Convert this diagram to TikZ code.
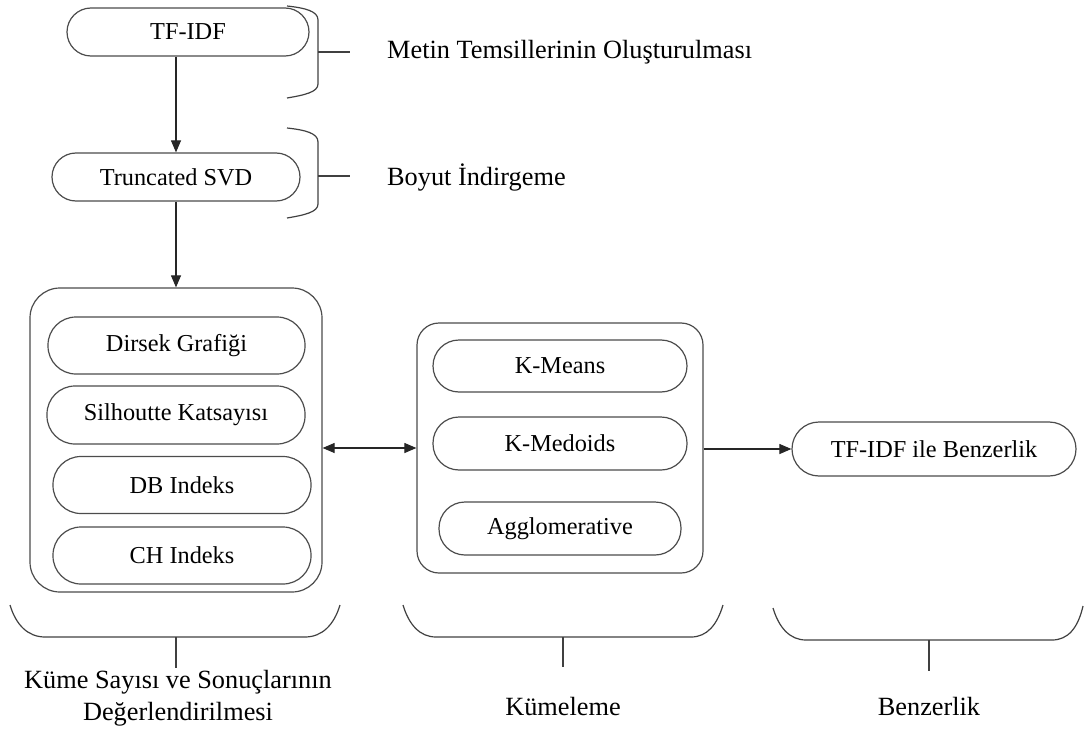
\documentclass[tikz,border=0pt]{standalone}
\usepackage{fontspec}
\setmainfont{Liberation Serif}
\usetikzlibrary{arrows.meta}
\begin{document}
\begin{tikzpicture}[x=1pt,y=-1pt,
  box/.style={draw=black!70,line width=1.2pt,rounded corners=#1,inner sep=0pt,align=center,font=\fontsize{24.3}{29}\selectfont},
  box/.default=24pt,
  lbl/.style={font=\fontsize{26.3}{32}\selectfont,inner sep=0pt,align=center},
  arr/.style={line width=1.1pt,draw=black!85,-{Triangle[length=12pt,width=10pt]}},
  darr/.style={line width=1.1pt,draw=black!85,{Triangle[length=12pt,width=10pt]}-{Triangle[length=12pt,width=10pt]}},
  brace/.style={draw=black!75,line width=1.2pt}]
\useasboundingbox (0,0) rectangle (1084,733);
% top nodes
\node[box,minimum width=242pt,minimum height=48pt] (tfidf) at (188,32) {TF-IDF};
\node[box,minimum width=248pt,minimum height=48pt] (svd) at (176,177) {Truncated SVD};
% left group
\node[box=30pt,minimum width=292pt,minimum height=304pt] (lbox) at (176,440) {};
\node[box=28pt,minimum width=257pt,minimum height=57pt] (dirsek) at (176.5,345.5) {Dirsek Grafiği};
\node[box=28pt,minimum width=258pt,minimum height=58pt] (silh) at (176,415) {Silhoutte Katsayısı};
\node[box=28pt,minimum width=258pt,minimum height=57pt] (db) at (182,485) {DB Indeks};
\node[box=28pt,minimum width=258pt,minimum height=57pt] (ch) at (182,555.5) {CH Indeks};
% middle group
\node[box=22pt,minimum width=286pt,minimum height=250pt] (mid) at (560,448) {};
\node[box=26pt,minimum width=254pt,minimum height=52pt] (kmeans) at (560,366) {K-Means};
\node[box=26pt,minimum width=254pt,minimum height=53pt] (kmedoids) at (560,443.5) {K-Medoids};
\node[box=26pt,minimum width=242pt,minimum height=53pt] (agglo) at (560,528.5) {Agglomerative};
% right
\node[box=27pt,minimum width=284pt,minimum height=54pt] (benz) at (934,449) {TF-IDF ile Benzerlik};
% arrows
\draw[arr] (tfidf.south -| svd.north) -- (svd.north);
\draw[arr] (svd.south) -- (lbox.north);
\draw[darr] ([yshift=-8pt]lbox.east) -- ([yshift=-8pt]lbox.east -| mid.west);
\draw[arr] (mid.east |- benz.west) -- (benz.west);
% top braces
\draw[brace] (287,6) .. controls (305,8) and (318,11) .. (318,20) -- (318,84) .. controls (318,92) and (305,95) .. (287,98);
\coordinate (t1) at (318,52); \coordinate (t1e) at (350,52);
\draw[brace] (t1) -- (t1e);
\node[lbl,anchor=west] (l1) at (387,52) {Metin Temsillerinin Oluşturulması};
\draw[brace] (287,128) .. controls (305,130) and (318,133) .. (318,142) -- (318,204) .. controls (318,212) and (305,215) .. (287,218);
\coordinate (t2) at (318,176); \coordinate (t2e) at (350,176);
\draw[brace] (t2) -- (t2e);
\node[lbl,anchor=west] (l2) at (387,177) {Boyut İndirgeme};
% bottom braces
\draw[brace] (10,605) .. controls (16,625) and (28,637) .. (45,637) -- (305,637) .. controls (322,637) and (334,625) .. (340,605);
\coordinate (b1) at (176,637); \coordinate (b1e) at (176,668);
\draw[brace] (b1) -- (b1e);
\node[lbl] (l3) at (178,698) {Küme Sayısı ve Sonuçlarının\\Değerlendirilmesi};
\draw[brace] (403,605) .. controls (409,625) and (420,637) .. (436,637) -- (691,637) .. controls (707,637) and (717,625) .. (723,605);
\coordinate (b2) at (563,637); \coordinate (b2e) at (563,667);
\draw[brace] (b2) -- (b2e);
\node[lbl] (l4) at (563,706) {Kümeleme};
\draw[brace] (773,608) .. controls (779,628) and (790,640) .. (806,640) -- (1052,640) .. controls (1068,640) and (1078,628) .. (1083,606);
\coordinate (b3) at (929,640); \coordinate (b3e) at (929,671);
\draw[brace] (b3) -- (b3e);
\node[lbl] (l5) at (929,706) {Benzerlik};
\end{tikzpicture}
\end{document}
